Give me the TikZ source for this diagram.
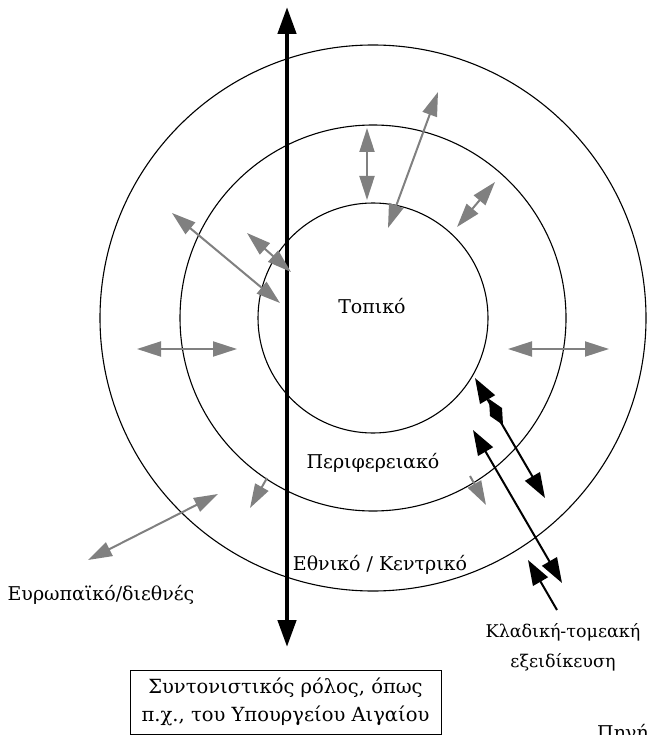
\documentclass[tikz,border=0pt]{standalone}
\usepackage{fontspec}
\setmainfont{DejaVu Serif}
\usetikzlibrary{arrows.meta}
\definecolor{garr}{RGB}{128,128,128}
\begin{document}
\begin{tikzpicture}[x=1pt,y=-1pt,
  ring/.style={draw=black,line width=1.1pt},
  lbl/.style={font=\fontsize{19}{22}\selectfont,inner sep=0pt,align=center},
  gdbl/.style={draw=garr,line width=2pt,{Triangle[length=24pt,width=15pt]}-{Triangle[length=24pt,width=15pt]}},
  gone/.style={draw=garr,line width=2pt,-{Triangle[length=24pt,width=15pt]}},
  bdbl/.style={draw=black,line width=2pt,{Triangle[length=25pt,width=17pt]}-{Triangle[length=25pt,width=17pt]}},
  bone/.style={draw=black,line width=2pt,-{Triangle[length=25pt,width=17pt]}},
  thick/.style={draw=black,line width=4.5pt,{Triangle[length=27pt,width=18pt]}-{Triangle[length=27pt,width=18pt]}},
  box/.style={draw=black,line width=0.9pt,minimum width=311pt,minimum height=64pt,inner sep=2pt,align=center,font=\fontsize{19.5}{28}\selectfont}
]
\useasboundingbox (0,0) rectangle (646,735);
% rings
\coordinate (c) at (373,318);
\draw[ring] (c) circle[radius=115pt];
\draw[ring] (c) circle[radius=193pt];
\draw[ring] (c) circle[radius=273pt];
% thick vertical arrow
\coordinate (vt) at (287,7);
\coordinate (vb) at (287,647);
\draw[thick] (vb) -- (vt);
% gray arrows
\coordinate (g1a) at (367,128); \coordinate (g1b) at (367,200);
\coordinate (g2a) at (438,92);  \coordinate (g2b) at (388,228);
\coordinate (g3a) at (495,182); \coordinate (g3b) at (457,227);
\coordinate (g4a) at (172,213); \coordinate (g4b) at (280,303);
\coordinate (g5a) at (247,233); \coordinate (g5b) at (291,272);
\coordinate (g6a) at (137,349); \coordinate (g6b) at (237,349);
\coordinate (g7a) at (508,349); \coordinate (g7b) at (609,349);
\coordinate (g8a) at (88,560);  \coordinate (g8b) at (218,494);
\coordinate (g9a) at (267,478); \coordinate (g9b) at (250,508);
\coordinate (g10a) at (470,476); \coordinate (g10b) at (486,505);
\draw[gdbl] (g1a) -- (g1b);
\draw[gdbl] (g2a) -- (g2b);
\draw[gdbl] (g3a) -- (g3b);
\draw[gdbl] (g4a) -- (g4b);
\draw[gdbl] (g5a) -- (g5b);
\draw[gdbl] (g6a) -- (g6b);
\draw[gdbl] (g7a) -- (g7b);
\draw[gdbl] (g8a) -- (g8b);
\draw[gone] (g9a) -- (g9b);
\draw[gone] (g10a) -- (g10b);
% black arrows
\coordinate (b1a) at (475,378); \coordinate (b1b) at (545,498);
\coordinate (b2a) at (473,430); \coordinate (b2b) at (562,583);
\coordinate (b3a) at (557,610); \coordinate (b3b) at (528,560);
\draw[bdbl] (b1a) -- (b1b);
\fill[black] (489,399) -- (502,408) -- (503,425) -- (490,416) -- cycle;
\draw[bdbl] (b2a) -- (b2b);
\draw[bone] (b3a) -- (b3b);
% labels
\node[lbl] (tloc) at (372,306) {Τοπικό};
\node[lbl] (treg) at (373,463) {Περιφερειακό};
\node[lbl] (tnat) at (380,565) {Εθνικό / Κεντρικό};
\node[lbl] (teu) at (101,595) {Ευρωπαϊκό/διεθνές};
\node[lbl,font=\fontsize{17.5}{30}\selectfont] (tsec) at (563,647) {Κλαδική-τομεακή\\εξειδίκευση};
\node[box] (coord) at (285.5,702) {Συντονιστικός ρόλος, όπως\\π.χ., του Υπουργείου Αιγαίου};
\node[lbl,anchor=north west] (src) at (597,724) {Πηγή};
\end{tikzpicture}
\end{document}
